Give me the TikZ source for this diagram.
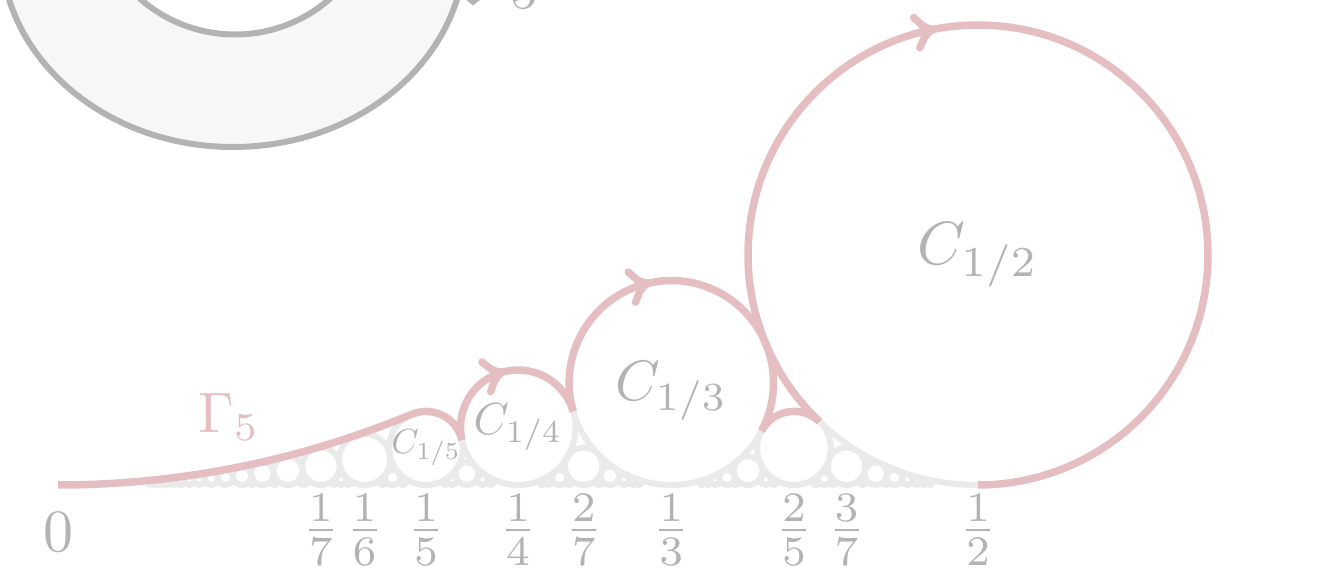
\documentclass[tikz,border=0pt]{standalone}
\usetikzlibrary{decorations.markings}
\definecolor{pinkc}{RGB}{229,190,194}
\definecolor{gtext}{RGB}{179,179,179}
\definecolor{fordc}{RGB}{234,234,234}
\definecolor{shapefill}{RGB}{247,247,247}
\begin{document}
\begin{tikzpicture}[x=1pt,y=1pt,
  lab/.style={text=gtext, inner sep=0pt, scale=6},
  fordline/.style={draw=fordc, line width=6pt},
  gam/.style={draw=pinkc, line width=7.5pt, line cap=butt},
  barbs/.style={draw=pinkc, line width=7.5pt, line cap=round, line join=round},
  witharrow/.style={postaction={decorate}, decoration={markings,
      mark=at position #1 with {\draw[barbs] (-16pt,15.5pt) .. controls (-8pt,4pt) .. (0pt,0pt) .. controls (-8pt,-4pt) .. (-16pt,-15.5pt);}}},
  shapeline/.style={draw=gtext, line width=6pt, fill=shapefill, even odd rule}]
\useasboundingbox (0,0) rectangle (1323,572);
\clip (0,0) rectangle (1323,572);
% clipped shape at the top left
\path[shapeline] (233,625) ellipse[x radius=232, y radius=200]
                 (235,681.4) circle[radius=143.9];
\fill[gtext] (466.5,572) -- (473,566.5) -- (480,572) -- cycle;
\node[lab, scale=0.933, anchor=base] (topfive) at (524,563) {$5$};
% Ford circles
\foreach \q in {2,...,20}{
  \foreach \p in {1,...,10}{
    \pgfmathtruncatemacro{\g}{gcd(\p,\q)}
    \ifnum\g=1
      \ifnum\numexpr2*\p\relax>\q\relax\else
        \path[fordline] ({58+\p/\q*1840},{87+920/(\q*\q)}) circle[radius={920/(\q*\q)}];
      \fi
    \fi
  }
}
% the path Gamma_5
\coordinate (zero) at (58,87);
\draw[gam] (zero) arc[start angle=-90, end angle=-67.38, radius=920];
\draw[gam] ([shift={(112.62:36.8)}]426,123.8) arc[start angle=112.62, end angle=12.68, radius=36.8];
\draw[gam, witharrow=0.4885] ([shift={(192.68:57.5)}]518,144.5) arc[start angle=192.68, end angle=16.26, radius=57.5];
\draw[gam, witharrow=0.4135] ([shift={(196.26:102.22)}]671.33,189.22) arc[start angle=196.26, end angle=-28.07, radius=102.22];
\draw[gam] ([shift={(151.93:36.8)}]794,123.8) arc[start angle=151.93, end angle=46.40, radius=36.8];
\draw[gam, witharrow=0.395] ([shift={(226.40:230)}]978,317) arc[start angle=226.40, end angle=-90, radius=230];
% labels
\node[lab] (l0) at (58,40) {$0$};
\node[lab] (l17) at (320.9,42) {$\frac{1}{7}$};
\node[lab] (l16) at (364.7,42) {$\frac{1}{6}$};
\node[lab] (l15) at (426,42) {$\frac{1}{5}$};
\node[lab] (l14) at (518,42) {$\frac{1}{4}$};
\node[lab] (l27) at (583.7,42) {$\frac{2}{7}$};
\node[lab] (l13) at (671.3,42) {$\frac{1}{3}$};
\node[lab] (l25) at (794,42) {$\frac{2}{5}$};
\node[lab] (l37) at (846.6,42) {$\frac{3}{7}$};
\node[lab] (l12) at (978,42) {$\frac{1}{2}$};
\node[text=gtext, inner sep=0pt, scale=6.1] (c12) at (978,317) {$C_{1/2}$};
\node[text=gtext, inner sep=0pt, scale=5.7] (c13) at (671.3,181) {$C_{1/3}$};
\node[text=gtext, inner sep=0pt, scale=4.5] (c14) at (518,144.5) {$C_{1/4}$};
\node[text=gtext, inner sep=0pt, scale=3.5] (c15) at (426,124.5) {$C_{1/5}$};
\node[text=pinkc, inner sep=0pt, scale=5.7] (gamma) at (229,155) {$\Gamma_5$};
\end{tikzpicture}
\end{document}
